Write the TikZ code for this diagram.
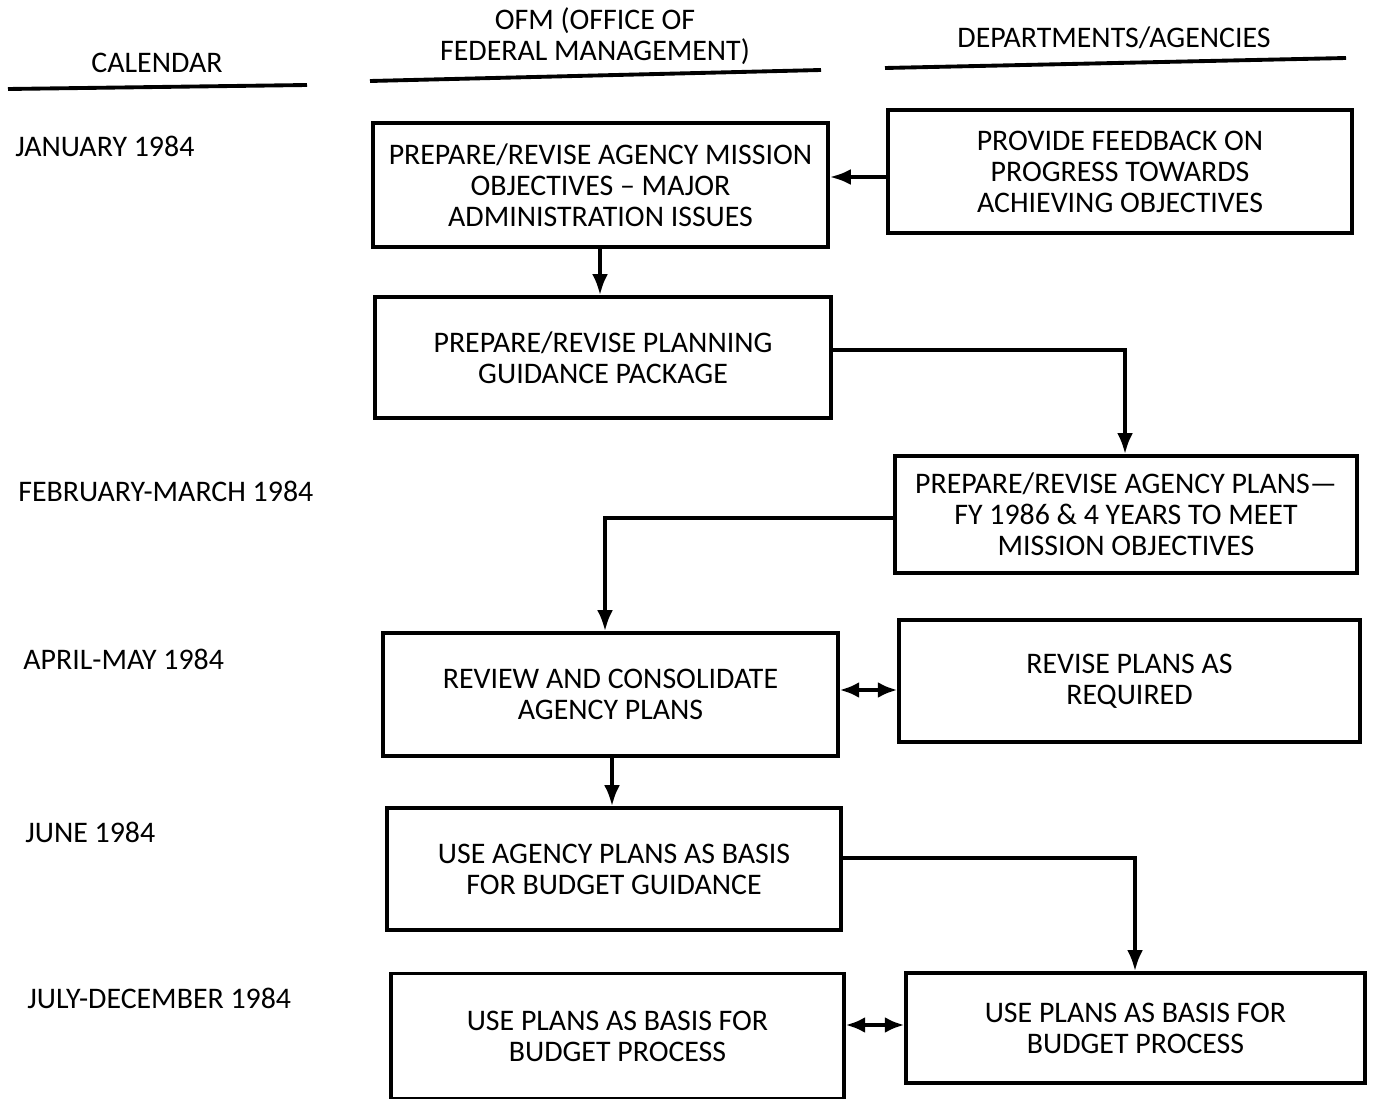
\documentclass[tikz,border=0pt]{standalone}
\usepackage{fontspec}
\setmainfont{Carlito}
\usetikzlibrary{arrows.meta}
\begin{document}
\begin{tikzpicture}[x=0.02cm,y=-0.02cm,
  txt/.style={font=\fontsize{17}{17.6}\selectfont},
  box/.style={draw, line width=2pt, align=center, inner sep=2pt, txt},
  conn/.style={line width=2.2pt, -{Latex[length=12pt,width=9pt]}},
  bconn/.style={line width=2.2pt, {Latex[length=11pt,width=9pt]}-{Latex[length=11pt,width=9pt]}},
  rule/.style={line width=2.2pt},
  cal/.style={anchor=base west, txt, inner sep=0pt}]
\useasboundingbox (0,0) rectangle (1375,1098);
% headers
\node[txt, inner sep=0pt] (hcal) at (157,63) {CALENDAR};
\node[txt, align=center, inner sep=0pt] (hofm) at (595,36) {OFM (OFFICE OF\\FEDERAL MANAGEMENT)};
\node[txt, inner sep=0pt] (hdep) at (1114,38) {DEPARTMENTS/AGENCIES};
\draw[rule] (8,89) -- (307,85);
\draw[rule] (370,81) -- (821,70);
\draw[rule] (885,68) -- (1346,58);
% calendar
\node[cal] (c1) at (15,157) {JANUARY 1984};
\node[cal] (c2) at (18,501) {FEBRUARY-MARCH 1984};
\node[cal] (c3) at (23,669) {APRIL-MAY 1984};
\node[cal] (c4) at (25,842) {JUNE 1984};
\node[cal] (c5) at (27,1008) {JULY-DECEMBER 1984};
% boxes
\node[box, minimum width=9.1cm, minimum height=2.48cm] (o1) at (600.5,185) {PREPARE/REVISE AGENCY MISSION\\OBJECTIVES -- MAJOR\\ADMINISTRATION ISSUES};
\node[box, minimum width=9.28cm, minimum height=2.46cm] (d1) at (1120,171.5) {PROVIDE FEEDBACK ON\\PROGRESS TOWARDS\\ACHIEVING OBJECTIVES};
\node[box, minimum width=9.12cm, minimum height=2.42cm] (o2) at (603,357.5) {PREPARE/REVISE PLANNING\\GUIDANCE PACKAGE};
\node[box, minimum width=9.24cm, minimum height=2.34cm] (d2) at (1126,514.5) {PREPARE/REVISE AGENCY PLANS---\\FY 1986 \& 4 YEARS TO MEET\\MISSION OBJECTIVES};
\node[box, minimum width=9.1cm, minimum height=2.46cm] (o3) at (610.5,694.5) {REVIEW AND CONSOLIDATE\\AGENCY PLANS};
\node[box, minimum width=9.22cm, minimum height=2.44cm] (d3) at (1129.5,681) {REVISE PLANS AS\\REQUIRED};
\node[box, minimum width=9.08cm, minimum height=2.44cm] (o4) at (614,869) {USE AGENCY PLANS AS BASIS\\FOR BUDGET GUIDANCE};
\node[box, minimum width=9.18cm, minimum height=2.2cm] (d4) at (1135.5,1028) {USE PLANS AS BASIS FOR\\BUDGET PROCESS};
\node[box, minimum width=9.06cm, minimum height=2.5cm] (o5) at (617.5,1036) {USE PLANS AS BASIS FOR\\BUDGET PROCESS};
% connectors
\draw[conn] (d1.west |- 0,177) -- (o1.east |- 0,177);
\draw[conn] (o1.south -| 600,0) -- (o2.north -| 600,0);
\draw[conn] (o2.east |- 0,350) -| (d2.north -| 1125,0);
\draw[conn] (d2.west |- 0,518) -| (o3.north -| 605,0);
\draw[bconn] (o3.east |- 0,690) -- (d3.west |- 0,690);
\draw[conn] (o3.south -| 612,0) -- (o4.north -| 612,0);
\draw[conn] (o4.east |- 0,858) -| (d4.north -| 1135,0);
\draw[bconn] (o5.east |- 0,1025) -- (d4.west |- 0,1025);
\end{tikzpicture}
\end{document}
